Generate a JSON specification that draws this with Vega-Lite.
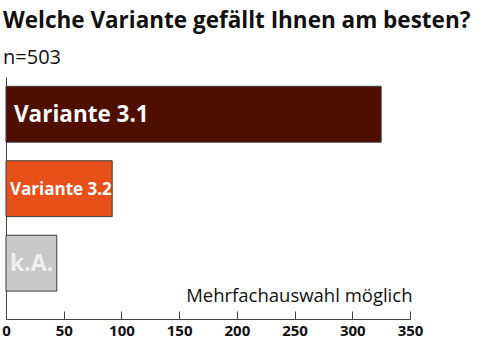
{
  "$schema": "https://vega.github.io/schema/vega-lite/v6.json",
  "width": 404,
  "height": 242,
  "autosize": {"type": "none"},
  "padding": {"left": 6, "top": 77, "right": 81, "bottom": 28},
  "background": "white",
  "title": {
    "text": "Welche Variante gefällt Ihnen am besten?",
    "subtitle": "n=503",
    "anchor": "start",
    "frame": "group",
    "font": "Open Sans",
    "fontSize": 22.5,
    "fontWeight": "bold",
    "color": "#111111",
    "subtitleFont": "Open Sans",
    "subtitleFontSize": 20,
    "subtitleColor": "#111111",
    "subtitlePadding": 16,
    "dx": -3,
    "offset": 9
  },
  "config": {
    "view": {"stroke": null},
    "font": "Open Sans"
  },
  "data": {
    "values": [
      {"variante": "Variante 3.1", "anzahl": 325},
      {"variante": "Variante 3.2", "anzahl": 92},
      {"variante": "k.A.", "anzahl": 44}
    ]
  },
  "encoding": {
    "y": {
      "field": "variante",
      "type": "nominal",
      "sort": ["Variante 3.1", "Variante 3.2", "k.A."],
      "scale": {"paddingInner": 0.25, "paddingOuter": 0.25, "align": 0.25},
      "axis": {
        "title": null,
        "labels": false,
        "ticks": false,
        "domainColor": "#444444",
        "domainWidth": 1
      }
    }
  },
  "layer": [
    {
      "mark": {"type": "bar", "stroke": "#3a3a3a", "strokeWidth": 1},
      "encoding": {
        "x": {
          "field": "anzahl",
          "type": "quantitative",
          "scale": {"domain": [0, 350], "nice": false},
          "axis": {
            "values": [0, 50, 100, 150, 200, 250, 300, 350],
            "grid": false,
            "tickSize": -8,
            "tickColor": "#444444",
            "domainColor": "#444444",
            "labelFont": "Open Sans",
            "labelFontSize": 15,
            "labelFontWeight": "bold",
            "labelColor": "#111111",
            "labelPadding": 12,
            "labelFlush": false,
            "title": "Mehrfachauswahl möglich",
            "titleFont": "Open Sans",
            "titleFontSize": 18.5,
            "titleFontWeight": "normal",
            "titleColor": "#111111",
            "titleAnchor": "end",
            "titleAlign": "right",
            "titleX": 406,
            "titleY": -33
          }
        },
        "color": {
          "field": "variante",
          "type": "nominal",
          "scale": {
            "domain": ["Variante 3.1", "Variante 3.2", "k.A."],
            "range": ["#4e0f00", "#e8501a", "#c8c8c8"]
          },
          "legend": null
        }
      }
    },
    {
      "transform": [{"filter": "datum.variante == 'Variante 3.1'"}],
      "mark": {"type": "text", "align": "left", "baseline": "middle", "dx": 8, "dy": 1, "fontSize": 22.5, "fontWeight": "bold", "color": "#ffffff"},
      "encoding": {"x": {"datum": 0, "type": "quantitative"}, "text": {"field": "variante"}}
    },
    {
      "transform": [{"filter": "datum.variante == 'Variante 3.2'"}],
      "mark": {"type": "text", "align": "left", "baseline": "middle", "dx": 4, "dy": 1, "fontSize": 17, "fontWeight": "bold", "color": "#ffffff"},
      "encoding": {"x": {"datum": 0, "type": "quantitative"}, "text": {"field": "variante"}}
    },
    {
      "transform": [{"filter": "datum.variante == 'k.A.'"}],
      "mark": {"type": "text", "align": "left", "baseline": "middle", "dx": 4, "dy": 1, "fontSize": 23, "fontWeight": "bold", "color": "#f0f0f0"},
      "encoding": {"x": {"datum": 0, "type": "quantitative"}, "text": {"field": "variante"}}
    }
  ]
}
